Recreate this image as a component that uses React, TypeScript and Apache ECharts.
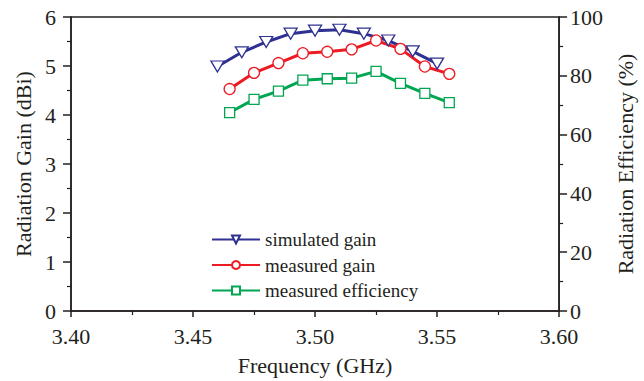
import React, { useEffect, useRef } from "react";
import * as echarts from "echarts";

const freqSim = [3.46, 3.47, 3.48, 3.49, 3.5, 3.51, 3.52, 3.53, 3.54, 3.55];
const gainSim = [4.99, 5.28, 5.49, 5.66, 5.72, 5.74, 5.66, 5.52, 5.3, 5.05];
const freqMeas = [3.465, 3.475, 3.485, 3.495, 3.505, 3.515, 3.525, 3.535, 3.545, 3.555];
const gainMeas = [4.53, 4.86, 5.06, 5.26, 5.29, 5.34, 5.52, 5.35, 4.99, 4.84];
const effMeas = [67.5, 72.0, 74.8, 78.5, 79.0, 79.2, 81.5, 77.4, 74.0, 70.9];
const seriesNames = ["simulated gain", "measured gain", "measured efficiency"];

const FONT = '"Liberation Serif", "Times New Roman", serif';
const INK = "#231f20";
const BLUE = "#2e3192";
const RED = "#ed1c24";
const GREEN = "#00a651";

export default function App() {
  const ref = useRef<HTMLDivElement>(null);
  useEffect(() => {
    if (!ref.current) return;
    const chart = echarts.init(ref.current, undefined, { renderer: "svg" });
    const axisCommon = {
      axisLine: { show: true, lineStyle: { color: INK, width: 1.5 } },
      axisTick: { show: true, inside: false, length: 8, lineStyle: { color: INK, width: 1.5 } },
      minorTick: { show: true, splitNumber: 2, length: 4, lineStyle: { color: INK, width: 1.2 } },
      splitLine: { show: false },
      nameTextStyle: { fontFamily: FONT, fontSize: 22, color: INK },
    };
    const labelStyle = { fontFamily: FONT, fontSize: 22, color: INK };
    chart.setOption({
      animation: false,
      backgroundColor: "#ffffff",
      grid: {
        left: 71,
        right: 83,
        top: 17,
        bottom: 67,
        show: true,
        borderColor: INK,
        borderWidth: 1.5,
        backgroundColor: "transparent",
      },
      legend: {
        orient: "vertical",
        left: 211,
        top: 230,
        padding: 0,
        itemWidth: 48,
        itemHeight: 10,
        itemGap: 6.5,
        data: seriesNames,
        textStyle: { fontFamily: FONT, fontSize: 19, color: INK, lineHeight: 19 },
      },
      xAxis: {
        type: "value",
        min: 3.4,
        max: 3.6,
        interval: 0.05,
        name: "Frequency (GHz)",
        nameLocation: "middle",
        nameGap: 43,
        ...axisCommon,
        axisTick: { ...axisCommon.axisTick, length: 6 },
        axisLabel: { ...labelStyle, margin: 14, formatter: (v: number) => v.toFixed(2) },
      },
      yAxis: [
        {
          type: "value",
          position: "left",
          min: 0,
          max: 6,
          interval: 1,
          name: "Radiation Gain (dBi)",
          nameLocation: "middle",
          nameGap: 36,
          ...axisCommon,
          axisLabel: { ...labelStyle, margin: 15 },
        },
        {
          type: "value",
          position: "right",
          min: 0,
          max: 100,
          interval: 20,
          name: "Radiation Efficiency (%)",
          nameLocation: "middle",
          nameGap: 47,
          ...axisCommon,
          axisLabel: { ...labelStyle, margin: 11 },
        },
      ],
      series: [
        {
          name: seriesNames[0],
          type: "line",
          yAxisIndex: 0,
          data: freqSim.map((f, i) => [f, gainSim[i]]),
          symbol: "triangle",
          symbolRotate: 180,
          symbolSize: [13, 11],
          showAllSymbol: true,
          lineStyle: { color: BLUE, width: 3 },
          itemStyle: { color: "#ffffff", borderColor: BLUE, borderWidth: 1.3 },
        },
        {
          name: seriesNames[1],
          type: "line",
          yAxisIndex: 0,
          data: freqMeas.map((f, i) => [f, gainMeas[i]]),
          symbol: "circle",
          symbolSize: 11,
          showAllSymbol: true,
          lineStyle: { color: RED, width: 3 },
          itemStyle: { color: "#ffffff", borderColor: RED, borderWidth: 1.3 },
        },
        {
          name: seriesNames[2],
          type: "line",
          yAxisIndex: 1,
          data: freqMeas.map((f, i) => [f, effMeas[i]]),
          symbol: "rect",
          symbolSize: 10,
          showAllSymbol: true,
          lineStyle: { color: GREEN, width: 3 },
          itemStyle: { color: "#ffffff", borderColor: GREEN, borderWidth: 1.3 },
        },
      ],
    });
    return () => chart.dispose();
  }, []);
  return (
    <div
      ref={ref}
      style={{ position: "absolute", left: 0, top: 0, width: 644, height: 381, background: "#fff" }}
    />
  );
}
